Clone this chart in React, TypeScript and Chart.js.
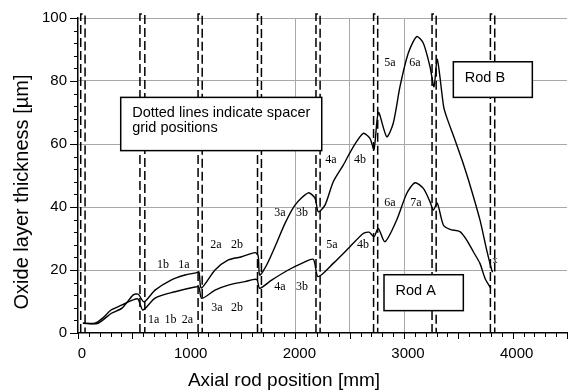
import React, { useEffect, useRef } from 'react';
import { Chart, registerables } from 'chart.js';
Chart.register(...registerables);

// ---- Data ----
const rodBX = [45, 184, 304, 405, 509, 555, 607, 709, 856, 985, 1086, 1113, 1135, 1261, 1383, 1506, 1629, 1658, 1672, 1736, 1813, 1905, 1997, 2119, 2181, 2211, 2273, 2349, 2441, 2533, 2625, 2687, 2724, 2765, 2841, 2901, 2963, 3039, 3117, 3178, 3239, 3276, 3306, 3365, 3395, 3469, 3534, 3607, 3699, 3761, 3807, 3815];
const rodBY = [3.1, 3.1, 6.2, 7.9, 12.1, 12.3, 9.9, 13.6, 16.8, 18.4, 19.1, 19.4, 14.3, 20, 23.2, 24.2, 25.5, 24.5, 18.4, 21.6, 27.4, 34.8, 40.6, 44.5, 42.8, 38.5, 40.6, 48, 53.3, 59.1, 63.4, 61.8, 58.3, 70, 62.3, 66.6, 78.2, 88.8, 94.1, 92, 84.6, 78.2, 86.9, 71.8, 68.3, 61.3, 54.9, 47, 35.9, 26.3, 20, 19.3];

const rodAX = [45, 156, 230, 304, 405, 506, 552, 598, 709, 893, 1077, 1113, 1138, 1261, 1383, 1537, 1644, 1672, 1782, 1935, 2059, 2165, 2209, 2349, 2503, 2625, 2678, 2724, 2763, 2825, 2933, 3025, 3101, 3178, 3239, 3270, 3306, 3362, 3423, 3515, 3577, 3638, 3699, 3745, 3798];
const rodAY = [3.1, 3.1, 4.8, 7.3, 8.9, 10.5, 10.8, 7.3, 11.1, 13.1, 14.6, 14.6, 11, 13.6, 15.2, 16.3, 17, 14.2, 16.8, 20, 22.1, 23.4, 17.9, 22.1, 27.4, 31.6, 32, 30.6, 33.2, 29, 35.9, 44.3, 47.7, 45.9, 41.7, 39, 41.2, 34.3, 32.9, 32.2, 29.5, 25.8, 22.1, 17.4, 14.2];

const spacerLeft = [25, 570, 1105, 1652, 2190, 2720, 3258, 3795];
const spacerRight = [65, 615, 1143, 1688, 2228, 2758, 3296, 3835];
const spacerTop = 101.3;

const xGridValues = [2000, 2500, 3000];

const markTexts = ['1b', '1a', '1a', '1b', '2a', '2a', '2b', '3a', '2b', '3a', '3b', '4a', '3b', '4a', '4b', '5a', '4b', '6a', '7a', '5a', '6a', 'x'];
const markX = [782, 975, 697, 851, 1007, 1270, 1463, 1279, 1463, 1859, 2061, 1859, 2061, 2328, 2595, 2337, 2623, 2871, 3110, 2871, 3101, 3837];
const markY = [21.5, 21.5, 4.2, 4.2, 4.2, 27.9, 27.9, 7.9, 7.9, 38.1, 38.1, 14.6, 14.6, 54.9, 54.9, 27.9, 27.9, 41.3, 41.3, 85.7, 85.7, 23.2];

const boxLines = [['Dotted lines indicate spacer', 'grid positions'], ['Rod B'], ['Rod A']];
const boxX0 = [393, 3454, 2816];
const boxX1 = [2243, 4181, 3546];
const boxY0 = [74.8, 86.1, 18.5];
const boxY1 = [57.9, 74.8, 7.1];

const xTitle = 'Axial rod position [mm]';
const yTitle = 'Oxide layer thickness [µm]';

const SANS = '"Liberation Sans", Arial, sans-serif';
const SERIF = '"Liberation Serif", "Times New Roman", serif';

const overlay = {
  id: 'overlay',
  afterDraw(chart: any) {
    const ctx = chart.ctx;
    const xs = chart.scales.x;
    const ys = chart.scales.y;
    const area = chart.chartArea;
    ctx.save();
    ctx.strokeStyle = '#000';
    ctx.lineWidth = 1;
    for (let v = 0; v <= 4500; v += 100) {
      const px = Math.round(xs.getPixelForValue(v)) + 0.5;
      const len = v % 500 === 0 ? 6 : 4;
      ctx.beginPath();
      ctx.moveTo(px, area.bottom);
      ctx.lineTo(px, area.bottom + len);
      ctx.stroke();
    }
    for (let v = 0; v <= 100; v += 4) {
      const py = Math.round(ys.getPixelForValue(v)) + 0.5;
      const len = v % 20 === 0 ? 8 : 4;
      ctx.beginPath();
      ctx.moveTo(area.left, py);
      ctx.lineTo(area.left - len, py);
      ctx.stroke();
    }
    ctx.fillStyle = '#000';
    ctx.textAlign = 'center';
    ctx.textBaseline = 'middle';
    markTexts.forEach((t, i) => {
      ctx.font = (t === 'x' ? '10px ' : '12px ') + SERIF;
      ctx.fillText(t, xs.getPixelForValue(markX[i]), ys.getPixelForValue(markY[i]));
    });
    boxLines.forEach((lines, i) => {
      const l = xs.getPixelForValue(boxX0[i]);
      const r = xs.getPixelForValue(boxX1[i]);
      const t = ys.getPixelForValue(boxY0[i]);
      const b = ys.getPixelForValue(boxY1[i]);
      ctx.fillStyle = '#fff';
      ctx.fillRect(l, t, r - l, b - t);
      ctx.lineWidth = 1.5;
      ctx.strokeStyle = '#000';
      ctx.strokeRect(l, t, r - l, b - t);
      ctx.fillStyle = '#000';
      ctx.font = '14.5px ' + SANS;
      ctx.textAlign = 'left';
      ctx.textBaseline = 'alphabetic';
      lines.forEach((line, k) => {
        ctx.fillText(line, l + 11.5, t + 20 + k * 14.5);
      });
    });
    ctx.fillStyle = '#000';
    ctx.textAlign = 'center';
    ctx.textBaseline = 'middle';
    ctx.font = '19px ' + SANS;
    ctx.fillText(xTitle, 284, 381);
    ctx.save();
    ctx.translate(22, 192);
    ctx.rotate(-Math.PI / 2);
    ctx.font = '20px ' + SANS;
    ctx.fillText(yTitle, 0, 0);
    ctx.restore();
    ctx.restore();
  },
};

export default function App() {
  const ref = useRef<HTMLCanvasElement | null>(null);
  useEffect(() => {
    if (!ref.current) return;
    const spacerSets = spacerLeft.map((a, i) => ({
      data: [
        { x: a, y: 0 },
        { x: a, y: spacerTop },
        { x: spacerRight[i], y: spacerTop },
        { x: spacerRight[i], y: 0 },
      ],
      borderColor: '#000',
      borderWidth: 1.5,
      borderDash: [9, 4],
      pointRadius: 0,
      tension: 0,
      clip: false as any,
      fill: false,
    }));
    const chart = new Chart(ref.current, {
      type: 'line',
      data: {
        datasets: [
          {
            label: 'Rod B',
            data: rodBX.map((x, i) => ({ x, y: rodBY[i] })),
            borderColor: '#000',
            borderWidth: 1.4,
            pointRadius: 0,
            tension: 0.25,
            fill: false,
          },
          {
            label: 'Rod A',
            data: rodAX.map((x, i) => ({ x, y: rodAY[i] })),
            borderColor: '#000',
            borderWidth: 1.4,
            pointRadius: 0,
            tension: 0.25,
            fill: false,
          },
          ...spacerSets,
        ] as any,
      },
      options: {
        animation: false,
        responsive: false,
        maintainAspectRatio: false,
        layout: { padding: { top: 18, right: 3, left: 0, bottom: 0 } },
        plugins: { legend: { display: false }, tooltip: { enabled: false } },
        scales: {
          x: {
            type: 'linear',
            min: 0,
            max: 4500,
            afterFit: (s: any) => { s.height = 59; s.paddingLeft = 0; s.paddingRight = 0; },
            ticks: {
              stepSize: 500,
              autoSkip: false,
              maxRotation: 0,
              padding: 12,
              labelOffset: 4,
              color: '#000',
              font: { family: SANS, size: 15 },
              callback: (v: any) => (Number(v) % 1000 === 0 ? String(v) : ''),
            },
            grid: {
              drawTicks: false,
              lineWidth: 1,
              color: (c: any) => (c.tick && xGridValues.includes(c.tick.value) ? '#a8a8a8' : 'rgba(0,0,0,0)'),
            },
            border: { color: '#000', width: 1.5 },
          },
          y: {
            type: 'linear',
            min: 0,
            max: 100,
            afterFit: (s: any) => { s.width = 78; s.paddingTop = 0; s.paddingBottom = 0; },
            ticks: {
              stepSize: 20,
              padding: 11,
              color: '#000',
              font: { family: SANS, size: 15 },
            },
            grid: {
              drawTicks: false,
              lineWidth: 1,
              color: (c: any) => (c.tick && c.tick.value === 0 ? 'rgba(0,0,0,0)' : '#a8a8a8'),
            },
            border: { color: '#000', width: 1.5 },
          },
        },
      } as any,
      plugins: [overlay],
    });
    return () => chart.destroy();
  }, []);
  return (
    <div style={{ position: 'fixed', left: 0, top: 0, width: 570, height: 392, background: '#fff' }}>
      <canvas ref={ref} width={570} height={392} style={{ display: 'block' }} />
    </div>
  );
}
